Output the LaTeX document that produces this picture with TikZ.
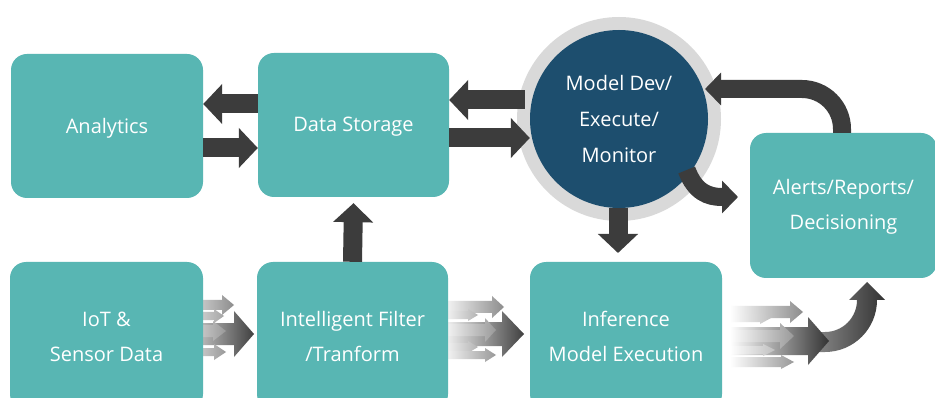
\documentclass[tikz,border=0pt]{standalone}
\usepackage{fontspec}
\setmainfont{Open Sans}
\usetikzlibrary{arrows.meta,calc}
\definecolor{teal1}{RGB}{88,182,179}
\definecolor{navy1}{RGB}{29,78,110}
\definecolor{ring1}{RGB}{217,217,217}
\definecolor{dark1}{RGB}{60,60,60}
\tikzset{
  box/.style={fill=teal1, rounded corners=16pt, text=white, align=center,
    font=\fontsize{20}{35}\selectfont, inner sep=0pt},
  boxtext/.style={text=white, align=center, font=\fontsize{20}{35}\selectfont, inner sep=0pt},
  blk/.style={draw=dark1, line width=19pt, -{Triangle[width=39pt,length=19pt]}},
  blkc/.style={draw=dark1, line width=18pt, -{Triangle[width=32pt,length=16pt]}},
}
% gradient block arrow: x0, head base x, tip x, y, shaft half, head half, colour
\newcommand{\garr}[7]{\shade[left color=white, right color=#7]
  (#1,#4-#5) -- (#2,#4-#5) -- (#2,#4-#6) -- (#3,#4) -- (#2,#4+#6) -- (#2,#4+#5) -- (#1,#4+#5) -- cycle;}
\begin{document}
\begin{tikzpicture}[x=1pt,y=-1pt]
\useasboundingbox (0,0) rectangle (935,398);
\clip (0,0) rectangle (935,398);
\fill[white] (0,0) rectangle (935,398);

% gradient arrow clusters
% IoT -> Filter
\garr{170}{222}{234}{305}{5}{10}{black!45}
\garr{170}{214}{224}{316}{4}{7}{black!35}
\garr{170}{234}{254}{334}{11}{23}{black!75}
\garr{170}{213}{226}{331}{6}{10}{black!40}
\garr{170}{214}{226}{352}{4}{8}{black!40}
% Filter -> Inference
\garr{440}{492}{504}{307}{6}{11}{black!45}
\garr{440}{468}{478}{315}{4}{6}{black!30}
\garr{440}{502}{524}{334}{12}{23}{black!75}
\garr{440}{485}{496}{330}{6}{12}{black!40}
\garr{440}{468}{478}{347}{4}{6}{black!30}
\garr{440}{485}{496}{355}{4}{7}{black!40}
% Inference -> Alerts
\garr{730}{790}{803}{312}{6}{11}{black!45}
\garr{730}{760}{771}{318}{4}{6}{black!25}
\shade[left color=black!40, right color=black!80]
  (800,352) -- (825,352) arc[start angle=90, end angle=0, radius=52]
  -- (885,300) -- (867,282) -- (849,300) -- (857,300)
  arc[start angle=0, end angle=90, radius=32] -- (800,332) -- cycle;
\garr{730}{808}{829}{341}{14}{24}{black!80}
\garr{730}{780}{794}{336}{6}{13}{black!40}
\garr{730}{763}{775}{350}{4}{6}{black!25}
\garr{730}{781}{794}{362}{5}{7}{black!40}

% boxes
\node[box, minimum width=192pt, minimum height=144pt] (ana) at (107,126) {};
\node[boxtext] (anat) at (107,128) {Analytics};
\node[box, minimum width=191pt, minimum height=144pt] (ds) at (353.5,125) {};
\node[boxtext] (dst) at (353.5,127) {Data Storage};
\node[box, minimum width=193pt, minimum height=148pt] (iot) at (106.5,336) {};
\node[boxtext] (iott) at (106.5,337) {IoT \&\\Sensor Data};
\node[box, minimum width=191pt, minimum height=148pt] (flt) at (352.5,336) {Intelligent Filter\\/Tranform};
\node[box, minimum width=192pt, minimum height=148pt] (inf) at (626,336) {Inference\\Model Execution};
\node[box, minimum width=187pt, minimum height=145pt] (al) at (843.5,205.5) {};
\node[boxtext] (alt) at (843.5,206.5) {Alerts/Reports/\\Decisioning};

% circle
\node[circle, fill=ring1, minimum size=204pt, inner sep=0pt] (ring) at (619,119) {};
\node[circle, fill=navy1, minimum size=178pt, inner sep=0pt, text=white, align=center,
  font=\fontsize{20}{36}\selectfont] (core) at (619,119) {Model Dev/\\Execute/\\Monitor};

% solid arrows
\draw[blk] (ds.west |- 0,104) -- (ana.east |- 0,104);
\draw[blk] (ana.east |- 0,148) -- (ds.west |- 0,148);
\draw[blk] ([xshift=-5pt]core.west |- 0,100) -- (ds.east |- 0,100);
\draw[blk] (ds.east |- 0,138) -- (core.west |- 0,138);
\draw[blk] (core.south -| 618,0) -- (618,253);
\draw[blk] (flt.north) -- ([yshift=-6pt]ds.south);
\coordinate (ca) at (738,197);
\draw[blkc] ($(core.center)!0.95!(core.-37)$) .. controls (695,192) and (708,197) .. (722,197) -- (ca);
\coordinate (fb) at (705,89);
\draw[blkc, rounded corners=40pt] (al.north -| 842,0) -- (842,89) -- (fb);
\end{tikzpicture}
\end{document}
